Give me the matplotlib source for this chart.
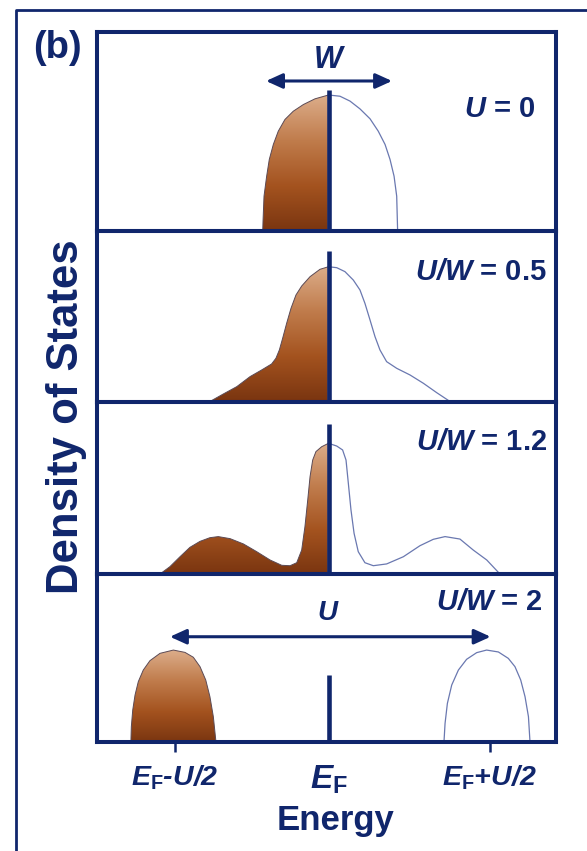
import numpy as np
import matplotlib
matplotlib.use("Agg")
import matplotlib.pyplot as plt
from matplotlib.colors import LinearSegmentedColormap
from matplotlib.patches import Polygon
from matplotlib.lines import Line2D

# energy in units of U/2 of the last panel, E_F = 0; DOS normalised to the U = 0 peak
energy_u0 = [-0.425, -0.416, -0.399, -0.382, -0.356, -0.324, -0.281, -0.227, -0.162,
             -0.087, 0.0, 0.074, 0.139, 0.203, 0.268, 0.321, 0.365, 0.397, 0.423,
             0.440, 0.446]
dos_u0 = [0.0, 0.256, 0.403, 0.526, 0.636, 0.734, 0.820, 0.881, 0.930,
          0.972, 1.0, 0.991, 0.955, 0.898, 0.825, 0.734, 0.636, 0.526, 0.403,
          0.256, 0.0]

energy_u05 = [-0.765, -0.679, -0.592, -0.506, -0.431, -0.367, -0.339, -0.317, -0.296,
              -0.270, -0.242, -0.210, -0.173, -0.119, -0.055, 0.0,
              0.053, 0.106, 0.160, 0.203, 0.235, 0.268, 0.300, 0.332, 0.375,
              0.440, 0.526, 0.612, 0.698, 0.784]
dos_u05 = [0.0, 0.055, 0.109, 0.183, 0.232, 0.276, 0.318, 0.379, 0.464,
           0.575, 0.685, 0.783, 0.849, 0.918, 0.972, 0.991,
           0.984, 0.955, 0.893, 0.820, 0.722, 0.599, 0.477, 0.379, 0.293,
           0.244, 0.195, 0.134, 0.065, 0.0]

energy_u12 = [-1.087, -1.023, -0.958, -0.894, -0.829, -0.765, -0.711, -0.635, -0.549,
              -0.463, -0.377, -0.302, -0.248, -0.205, -0.173, -0.152, -0.134, -0.119,
              -0.102, -0.081, -0.044, 0.0,
              0.053, 0.091, 0.113, 0.128, 0.145, 0.165, 0.192, 0.235, 0.289, 0.375,
              0.483, 0.590, 0.676, 0.752, 0.848, 0.934, 1.021, 1.106]
dos_u12 = [0.0, 0.054, 0.127, 0.196, 0.240, 0.267, 0.275, 0.260, 0.221,
           0.164, 0.103, 0.064, 0.061, 0.083, 0.176, 0.348, 0.544, 0.716,
           0.838, 0.900, 0.936, 0.961,
           0.941, 0.912, 0.838, 0.667, 0.471, 0.299, 0.164, 0.083, 0.061, 0.074,
           0.127, 0.208, 0.255, 0.275, 0.257, 0.176, 0.103, 0.0]

energy_u2 = [-1.275, -1.272, -1.263, -1.248, -1.227, -1.195, -1.152, -1.087, -1.001,
             -0.926, -0.872, -0.829, -0.792, -0.765, -0.743, -0.726,
             0.745, 0.752, 0.767, 0.795, 0.838, 0.891, 0.956, 1.020, 1.096,
             1.160, 1.203, 1.240, 1.268, 1.290, 1.300]
dos_u2 = [0.0, 0.113, 0.235, 0.346, 0.444, 0.529, 0.598, 0.652, 0.676,
          0.659, 0.623, 0.554, 0.456, 0.333, 0.186, 0.0,
          0.0, 0.137, 0.284, 0.419, 0.529, 0.608, 0.657, 0.676, 0.662,
          0.615, 0.554, 0.456, 0.333, 0.186, 0.0]

panel_labels = [r"$U$ = 0", r"$U/W$ = 0.5", r"$U/W$ = 1.2", r"$U/W$ = 2"]
ef_line_tops = [1.04, 1.11, 1.10, 0.49]

tick_pos = [-0.99, 0.0, 1.04]
tick_labels = [r"$E_\mathbf{F}$-U/2", r"$E_\mathbf{F}$", r"$E_\mathbf{F}$+U/2"]

w_arrow = (-0.403, 0.41, 1.103)
u_arrow = (-1.023, 1.046, 0.774)

navy = "#10266c"
edge_blue = "#6a78b0"
edge_brown = "#5b4a55"
brown = LinearSegmentedColormap.from_list(
    "brown", ["#7a3510", "#a4531f", "#c07c4c", "#dcad8a"])

plt.rcParams["font.family"] = ["Liberation Sans", "DejaVu Sans"]
plt.rcParams["mathtext.fontset"] = "custom"
# math symbols (incl. the slash) in bold italic, subscripts upright bold
plt.rcParams["mathtext.it"] = "Liberation Sans:italic:bold"
plt.rcParams["mathtext.rm"] = "Liberation Sans:italic:bold"
plt.rcParams["mathtext.bf"] = "Liberation Sans:bold"

W, H = 587, 851
fig = plt.figure(figsize=(W / 100, H / 100), dpi=100)

# panel borders in pixels (top to bottom)
edges = [32, 231, 401.5, 574, 742]
left_px, right_px = 97, 556
ef_px, scale_px = 328.5, 155.0
dos_px = 136.0

grad = np.linspace(0, 1, 256).reshape(-1, 1)


def draw_dos(ax, energy, dos):
    energy = np.asarray(energy)
    dos = np.asarray(dos)
    for mask, filled in [(energy <= 0, True), (energy >= 0, False)]:
        xs = energy[mask]
        ys = dos[mask]
        vx = np.r_[xs[0], xs, xs[-1]]
        vy = np.r_[0, ys, 0]
        if filled:
            poly = Polygon(np.column_stack([vx, vy]), closed=True,
                           facecolor="none", edgecolor="none")
            ax.add_patch(poly)
            img = ax.imshow(grad, extent=[xs.min(), xs.max(), 0, ys.max()],
                            origin="lower", aspect="auto", cmap=brown, zorder=1)
            img.set_clip_path(poly)
            ax.plot(xs, ys, color=edge_brown, lw=0.7, zorder=2)
        else:
            ax.fill(vx, vy, color="white", zorder=1)
            ax.plot(xs, ys, color=edge_blue, lw=0.9, zorder=2)


series = [(energy_u0, dos_u0), (energy_u05, dos_u05),
          (energy_u12, dos_u12), (energy_u2, dos_u2)]
label_pos = [(535, 109), (546.7, 272.5), (547, 442), (543, 602.5)]

axes = []
for i, (en, ds) in enumerate(series):
    top, bot = edges[i], edges[i + 1]
    ax = fig.add_axes([left_px / W, 1 - bot / H, (right_px - left_px) / W, (bot - top) / H])
    ax.set_facecolor("none")
    draw_dos(ax, en, ds)
    ax.plot([0, 0], [0, ef_line_tops[i]], color=navy, lw=3.3,
            solid_capstyle="butt", zorder=3)
    ax.set_xlim((left_px - ef_px) / scale_px, (right_px - ef_px) / scale_px)
    ax.set_ylim(0, (bot - top) / dos_px)
    ax.set_xticks([])
    ax.set_yticks([])
    for s in ax.spines.values():
        s.set_linewidth(2.9)
        s.set_color(navy)
        s.set_zorder(4)
    lx, ly = label_pos[i]
    ax.text((lx - left_px) / (right_px - left_px), 1 - (ly - top) / (bot - top),
            panel_labels[i], transform=ax.transAxes, ha="right", va="center",
            fontsize=21, fontweight="bold", color=navy)
    axes.append(ax)

ax1, ax4 = axes[0], axes[3]

ax1.annotate("", xy=(w_arrow[1], w_arrow[2]), xytext=(w_arrow[0], w_arrow[2]),
             arrowprops=dict(arrowstyle="<|-|>,head_length=0.55,head_width=0.25",
                             color=navy, lw=2.2, shrinkA=0, shrinkB=0,
                             mutation_scale=18))
ax1.text(0, 1.257, "W", ha="center", va="center", fontsize=22,
         fontweight="bold", fontstyle="italic", color=navy)

ax4.annotate("", xy=(u_arrow[1], u_arrow[2]), xytext=(u_arrow[0], u_arrow[2]),
             arrowprops=dict(arrowstyle="<|-|>,head_length=0.55,head_width=0.25",
                             color=navy, lw=2.2, shrinkA=0, shrinkB=0,
                             mutation_scale=18))
ax4.text(-0.01, 0.946, "U", ha="center", va="center", fontsize=20,
         fontweight="bold", fontstyle="italic", color=navy)

ax4.set_xticks(tick_pos)
ax4.set_xticklabels(tick_labels, fontsize=20.5, fontweight="bold",
                    fontstyle="italic", color=navy)
ax4.get_xticklabels()[1].set_fontsize(24)
ax4.tick_params(axis="x", length=7, width=1.8, color=navy, pad=8.5)
ax4.xaxis.get_major_ticks()[1].tick1line.set_visible(False)

fig.text(336 / W, 1 - 830 / H, "Energy", ha="center", va="baseline",
         fontsize=25, fontweight="bold", color=navy)
fig.text(67 / W, 1 - 417 / H, "Density of States", rotation=90, ha="center",
         va="center", fontsize=31.5, fontweight="bold", color=navy)
fig.text(57 / W, 1 - 48 / H, "(b)", ha="center", va="center",
         fontsize=27.5, fontweight="bold", color=navy)

# outer frame (only top and left edges are inside the picture)
fig.add_artist(Line2D([16 / W, 16 / W, 1.0], [0, 1 - 10 / H, 1 - 10 / H],
                      transform=fig.transFigure, color=navy, lw=2))

fig.savefig("out.png", dpi=100)
